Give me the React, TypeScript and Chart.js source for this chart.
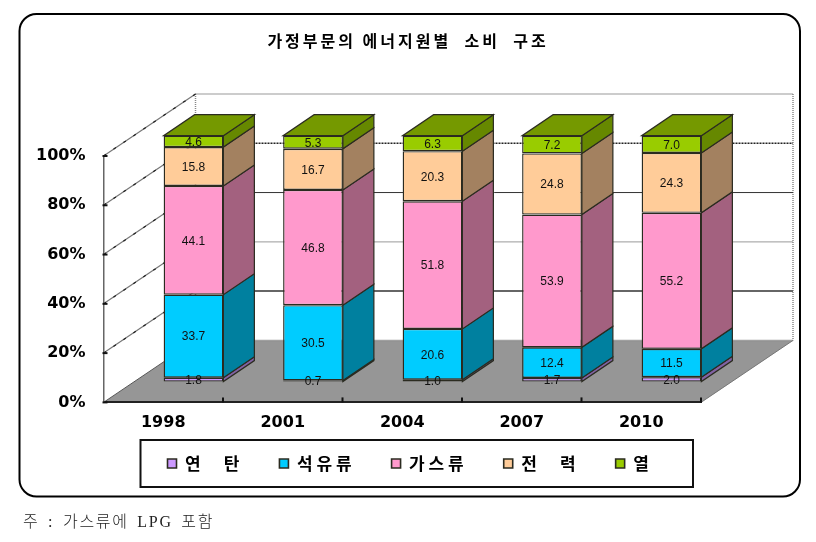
import React, { useEffect, useRef } from "react";
import { Chart, registerables } from "chart.js";

Chart.register(...registerables);

const years = ["1998", "2001", "2004", "2007", "2010"];
const coal = [1.8, 0.7, 1.0, 1.7, 2.0];
const oil = [33.7, 30.5, 20.6, 12.4, 11.5];
const gas = [44.1, 46.8, 51.8, 53.9, 55.2];
const power = [15.8, 16.7, 20.3, 24.8, 24.3];
const heat = [4.6, 5.3, 6.3, 7.2, 7.0];
const seriesNames = ["연      탄", "석 유 류", "가 스 류", "전      력", "열"];
const seriesColors = ["#CC99FF", "#00CCFF", "#FF99CC", "#FFCC99", "#99CC00"];
const sideColors = ["#8162A3", "#00809F", "#A3617F", "#A38160", "#668800"];
const topColor = "#759900";
const chartTitle = "가정부문의 에너지원별  소비  구조";
const footnote = "주 : 가스류에 LPG 포함";

const WALL = { dx: 92, dy: -62 };
const BAR = { dx: 30.25, dy: -20.3 };
const SIDE = { dx: 31, dy: -21 };
const backGrid: Record<number, { color: string; dash: number[]; width: number }> = {
  100: { color: "#777", dash: [1, 1], width: 1.5 },
  80: { color: "#222", dash: [2, 1], width: 1.5 },
  60: { color: "#333", dash: [], width: 1 },
  40: { color: "#777", dash: [1, 1], width: 1.5 },
  20: { color: "#666", dash: [], width: 2 },
  0: { color: "#777", dash: [1, 1], width: 1.5 },
};

function line(ctx: any, x1: number, y1: number, x2: number, y2: number, color: string, width: number, dash: number[] = []) {
  ctx.save();
  ctx.strokeStyle = color;
  ctx.lineWidth = width;
  ctx.setLineDash(dash);
  ctx.beginPath();
  ctx.moveTo(x1, y1);
  ctx.lineTo(x2, y2);
  ctx.stroke();
  ctx.restore();
}

function poly(ctx: any, pts: number[][], fill: string, stroke = "#2b2b20") {
  ctx.beginPath();
  pts.forEach((p, i) => (i ? ctx.lineTo(p[0], p[1]) : ctx.moveTo(p[0], p[1])));
  ctx.closePath();
  ctx.fillStyle = fill;
  ctx.fill();
  ctx.strokeStyle = stroke;
  ctx.lineWidth = 1.2;
  ctx.stroke();
}

const scene3d = {
  id: "scene3d",
  beforeDraw(chart: any) {
    const { ctx, chartArea: a, scales } = chart;
    ctx.save();
    // rounded panel
    ctx.beginPath();
    ctx.roundRect(19.5, 14, 780.5, 482.5, 17);
    ctx.fillStyle = "#fff";
    ctx.fill();
    ctx.strokeStyle = "#000";
    ctx.lineWidth = 2;
    ctx.stroke();
    // legend frame
    ctx.strokeStyle = "#111";
    ctx.lineWidth = 2;
    ctx.strokeRect(140.5, 440, 552.5, 47);
    // floor
    ctx.beginPath();
    ctx.moveTo(a.left, a.bottom);
    ctx.lineTo(a.right, a.bottom);
    ctx.lineTo(a.right + WALL.dx, a.bottom + WALL.dy);
    ctx.lineTo(a.left + WALL.dx, a.bottom + WALL.dy);
    ctx.closePath();
    ctx.fillStyle = "#969696";
    ctx.fill();
    // back wall edges
    const bl = a.left + WALL.dx;
    const br = a.right + WALL.dx;
    line(ctx, bl, a.top + WALL.dy, bl, a.bottom + WALL.dy, "#888", 1.5, [1, 1]);
    line(ctx, br, a.top + WALL.dy, br, a.bottom + WALL.dy, "#888", 1.5, [1, 1]);
    // grid lines on the walls
    scales.y.ticks.forEach((t: any) => {
      const y = scales.y.getPixelForValue(t.value);
      const st = backGrid[t.value];
      line(ctx, bl, y + WALL.dy, br, y + WALL.dy, st.color, st.width, st.dash);
      if (t.value > 0) {
        line(ctx, a.left, y, bl, y + WALL.dy, "#777", 1.2);
        line(ctx, a.left, y, bl, y + WALL.dy, "#222", 1.2, [3, 9]);
      }
    });
    line(ctx, a.left, a.bottom, bl, a.bottom + WALL.dy, "#555", 1);
    line(ctx, a.right, a.bottom, br, a.bottom + WALL.dy, "#777", 1);
    ctx.restore();

    // place the legend and the title
    const lg = chart.legend;
    const pad = lg.options.labels.padding;
    lg.left = 167.5 - pad;
    lg.right = 790;
    lg.top = 465 - pad - 10;
    lg.bottom = lg.top + lg.height;
    const tb = chart.titleBlock;
    tb.left = 0;
    tb.right = 816;
    if (!tb.__spaced) {
      tb.__spaced = true;
      const draw = tb.draw.bind(tb);
      tb.draw = (...args: any[]) => {
        (ctx as any).letterSpacing = "3px";
        draw(...args);
        (ctx as any).letterSpacing = "0px";
      };
    }
  },
  beforeDatasetsDraw(chart: any) {
    chart.ctx.save();
    chart.ctx.translate(BAR.dx, BAR.dy);
  },
  afterDatasetsDraw(chart: any) {
    const { ctx, chartArea: a, scales } = chart;
    chart.data.datasets.forEach((ds: any, i: number) => {
      chart.getDatasetMeta(i).data.forEach((bar: any, j: number) => {
        const { x, y, base, width } = bar.getProps(["x", "y", "base", "width"], true);
        const r = x + width / 2;
        const l = x - width / 2;
        poly(ctx, [[r, y], [r + SIDE.dx, y + SIDE.dy], [r + SIDE.dx, base + SIDE.dy], [r, base]], sideColors[i]);
        if (i === chart.data.datasets.length - 1) {
          poly(ctx, [[l, y], [r, y], [r + SIDE.dx, y + SIDE.dy], [l + SIDE.dx, y + SIDE.dy]], topColor);
        }
      });
    });
    ctx.fillStyle = "#111";
    ctx.font = "12px 'Liberation Sans'";
    ctx.textAlign = "center";
    ctx.textBaseline = "middle";
    chart.data.datasets.forEach((ds: any, i: number) => {
      chart.getDatasetMeta(i).data.forEach((bar: any, j: number) => {
        const { x, y, base } = bar.getProps(["x", "y", "base"], true);
        ctx.fillText(ds.data[j].toFixed(1), x, (y + base) / 2 + 1);
      });
    });
    ctx.restore();
    // tick marks
    const step = (a.right - a.left) / years.length;
    years.forEach((_, k) => {
      const x = a.left + step * (k + 1);
      line(ctx, x, a.bottom, x, a.bottom - 5, "#111", 2);
    });
    scales.y.ticks.forEach((t: any) => {
      const y = scales.y.getPixelForValue(t.value);
      line(ctx, a.left - 1, y, a.left + 4, y, "#111", 2);
    });
  },
};

export default function App() {
  const ref = useRef<HTMLCanvasElement>(null);
  useEffect(() => {
    document.body.style.margin = "0";
    const chart = new Chart(ref.current as HTMLCanvasElement, {
      type: "bar",
      data: {
        labels: years,
        datasets: [coal, oil, gas, power, heat].map((data, i) => ({
          label: seriesNames[i],
          data,
          backgroundColor: seriesColors[i],
          borderColor: "#2b2b20",
          borderWidth: 1.4,
          borderSkipped: false,
          categoryPercentage: 1,
          barPercentage: 0.5,
          clip: false,
        })),
      },
      options: {
        animation: false,
        responsive: false,
        layout: { padding: { left: 0, right: 115, top: 0, bottom: 40.6 } },
        scales: {
          x: {
            stacked: true,
            afterFit: (s: any) => {
              s.height = 32;
            },
            grid: { display: true, drawOnChartArea: false, drawTicks: false },
            border: { color: "#222", width: 2, dash: [1, 1] },
            ticks: {
              padding: 11,
              color: "#000",
              font: { family: "'DejaVu Sans'", weight: "bold", size: 16 },
            },
          },
          y: {
            stacked: true,
            min: 0,
            max: 100,
            afterFit: (s: any) => {
              s.width = 103.5;
            },
            grid: { display: true, drawOnChartArea: false, drawTicks: false },
            border: { color: "#666", width: 1.5 },
            ticks: {
              stepSize: 20,
              padding: 18,
              color: "#000",
              callback: (v: any) => v + "%",
              font: { family: "'DejaVu Sans'", weight: "bold", size: 16 },
            },
          },
        },
        plugins: {
          tooltip: { enabled: false },
          title: {
            display: true,
            text: chartTitle,
            color: "#000",
            padding: { top: 32, bottom: 106 },
            font: { family: "'Noto Sans CJK KR'", weight: "bold", size: 16, lineHeight: 1.125 },
          },
          legend: {
            display: true,
            position: "bottom",
            align: "start",
            labels: {
              boxWidth: 9,
              boxHeight: 9,
              padding: 40,
              color: "#000",
              font: { family: "'Noto Sans CJK KR'", weight: "bold", size: 17 },
              generateLabels: (c: any) =>
                Chart.defaults.plugins.legend.labels.generateLabels(c).map((l: any) => ({ ...l, lineWidth: 1.6 })),
            },
          },
        },
      },
      plugins: [scene3d],
    } as any);
    return () => chart.destroy();
  }, []);
  return (
    <div style={{ position: "relative", width: 816, height: 542, background: "#fff" }}>
      <canvas ref={ref} width={816} height={542} style={{ display: "block" }} />
      <div
        style={{
          position: "absolute",
          left: 23,
          top: 512,
          fontFamily: "'Liberation Serif','Noto Sans CJK KR'",
          fontWeight: 300,
          fontSize: 16,
          lineHeight: "20px",
          letterSpacing: "1.7px",
          wordSpacing: "3px",
          color: "#222",
          whiteSpace: "pre",
        }}
      >
        {footnote}
      </div>
    </div>
  );
}
